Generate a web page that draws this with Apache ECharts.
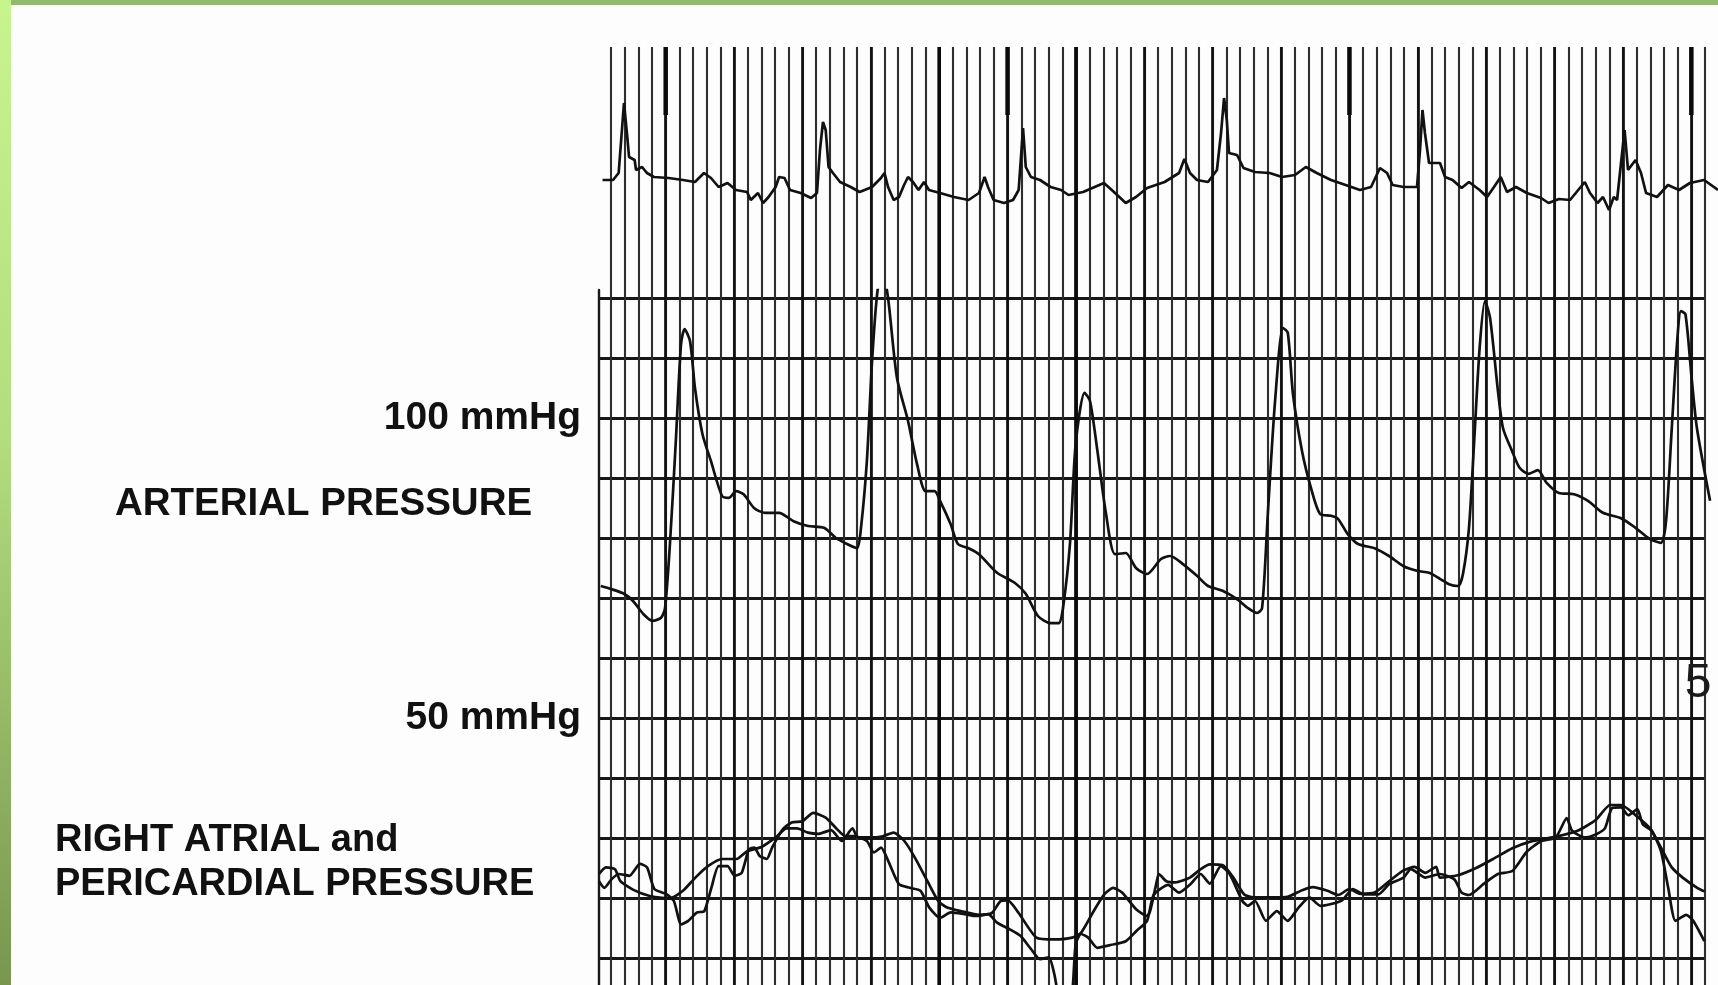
<!DOCTYPE html>
<html>
<head>
<meta charset="utf-8">
<script src="https://cdn.jsdelivr.net/npm/echarts@6/dist/echarts.min.js"></script>
<style>
  html, body { margin: 0; padding: 0; background: #fdfdfd; }
  #chart { width: 1718px; height: 985px; }
</style>
</head>
<body>
<div id="chart"></div>
<script>
// ---------- DATA (time in chart-paper divisions) ----------
const timeMarks = [4, 29, 54, 79];          // event-marker ticks on top channel
const heavyLines = [24, 34];                // heavy time lines on the paper
const pressureLabels = [100, 50];           // labelled pressure levels (mmHg)
const markLevels = [18.3, 25.1];            // extent of event ticks (ECG units)

const ecgTrace = [
[-0.62,11.8],[0.15,11.8],[0.56,12.5],[0.95,19.5],[1.21,15.8],[1.32,14.1],[1.73,13.8],[1.83,12.8],[2.27,13.1],[2.63,12.5],[3.14,12.1],[4.21,12.0],[5.27,11.8],[6.14,11.6],[6.80,12.5],[7.31,12.0],[7.87,11.1],[8.52,11.5],[9.14,10.8],[9.95,10.6],[10.22,9.8],[10.75,10.5],[11.12,9.5],[11.52,10.1],[12.04,11.1],[12.29,12.1],[12.69,12.0],[13.09,10.8],[13.87,10.5],[14.63,10.0],[15.06,10.5],[15.28,14.8],[15.50,17.6],[15.70,16.8],[15.91,13.1],[16.23,12.5],[16.75,11.6],[17.53,11.1],[18.18,10.6],[19.09,11.1],[19.74,12.0],[20.0,12.5],[20.26,11.1],[20.67,9.8],[21.06,10.1],[21.43,11.3],[21.72,12.1],[22.08,11.6],[22.49,10.8],[22.89,11.6],[23.25,10.8],[24.06,10.5],[25.08,10.1],[26.15,9.8],[26.91,10.5],[27.32,12.1],[27.57,11.1],[27.98,9.8],[28.74,9.5],[29.40,9.8],[29.81,10.8],[30.13,17.0],[30.33,13.1],[30.71,12.1],[31.37,11.8],[32.15,11.1],[32.91,10.8],[33.46,10.3],[34.52,10.6],[36.05,11.5],[36.86,10.5],[37.64,9.5],[38.39,10.1],[39.20,11.0],[40.48,11.6],[41.54,12.5],[41.93,13.9],[42.34,12.5],[42.85,11.8],[43.66,11.6],[44.31,12.8],[44.61,16.5],[44.83,20.0],[45.03,17.8],[45.19,14.5],[45.78,14.3],[46.25,13.0],[47.09,12.6],[48.16,12.5],[49.07,12.1],[50.02,12.3],[50.81,13.1],[51.61,12.5],[52.65,11.8],[53.72,11.3],[54.77,10.8],[55.58,11.1],[56.23,13.0],[56.75,12.5],[57.16,11.3],[57.96,11.1],[58.94,11.1],[59.16,14.8],[59.34,18.8],[59.52,16.5],[59.82,13.5],[60.62,13.5],[60.99,12.1],[61.54,11.8],[62.20,11.0],[62.74,11.6],[63.52,10.8],[64.06,10.1],[64.57,11.1],[65.06,12.1],[65.52,10.6],[66.18,11.1],[66.97,10.5],[68.01,10.0],[68.56,9.5],[69.32,9.9],[70.13,9.8],[71.21,11.6],[71.59,10.5],[72.14,9.5],[72.54,10.1],[72.98,8.8],[73.33,10.1],[73.57,9.8],[73.86,13.5],[74.12,16.8],[74.37,12.8],[74.92,13.8],[75.32,12.5],[75.69,10.5],[76.49,10.1],[77.29,11.3],[78.10,10.8],[78.90,11.5],[79.93,11.8],[80.95,10.8]
];

const arterialPressure = [
[-0.75,72.0],[0,71.5],[0.95,70.7],[1.61,69.5],[2.38,67.3],[3.03,66.2],[3.66,66.7],[3.95,68.3],[4.31,79.0],[4.73,95.7],[5.12,112.3],[5.38,114.8],[5.78,112.8],[6.14,105.0],[6.69,97.3],[7.31,92.8],[8.12,87.0],[8.63,86.7],[9.14,87.8],[9.70,87.3],[10.46,85.0],[11.26,84.2],[12.29,84.2],[13.35,82.8],[14.41,82.0],[15.58,81.7],[16.45,80.0],[17.26,79.0],[17.99,78.3],[18.28,81.7],[18.71,92.8],[19.09,109.5],[19.49,121.2],[19.89,124.0],[20.26,120.0],[20.91,106.7],[21.72,99.5],[22.38,92.3],[23.01,87.8],[23.66,87.8],[24.06,86.2],[24.84,82.3],[25.37,79.0],[26.15,78.3],[26.91,77.3],[28.23,74.2],[29.54,72.5],[30.33,70.7],[31.22,67.0],[32.15,65.8],[32.73,65.8],[33.05,68.3],[33.56,79.0],[33.98,95.7],[34.63,104.2],[35.03,102.8],[35.54,95.0],[36.20,84.0],[36.86,77.3],[37.64,77.5],[38.39,75.0],[39.20,74.0],[40.22,76.5],[40.88,77.0],[41.80,75.7],[42.85,73.7],[43.66,72.0],[44.72,71.2],[45.78,69.8],[46.58,68.3],[47.24,67.5],[47.61,68.3],[48.03,84.0],[48.56,102.8],[49.14,115.0],[49.49,114.2],[49.87,104.0],[50.53,94.5],[51.19,88.3],[51.85,84.0],[52.65,83.7],[53.16,83.2],[53.86,80.7],[54.63,79.0],[55.84,78.3],[56.89,77.0],[57.96,75.3],[59.01,74.5],[59.82,74.2],[60.62,73.2],[61.28,72.3],[61.94,72.0],[62.30,74.0],[62.74,81.7],[63.11,95.7],[63.52,111.7],[63.91,119.5],[64.28,116.7],[64.86,104.5],[65.23,98.3],[65.89,94.5],[66.44,91.7],[67.10,90.7],[67.77,91.3],[68.42,89.2],[69.32,87.5],[70.42,87.3],[71.44,86.2],[72.54,84.2],[73.86,83.3],[74.92,81.7],[75.98,79.8],[76.78,79.2],[77.15,82.8],[77.57,98.3],[77.95,112.3],[78.24,117.8],[78.57,117.3],[79.02,106.7],[79.41,98.3],[80.37,86.2]
];

const rightAtrialPressure = [
[-0.88,24.0],[-0.37,25.1],[0.29,24.8],[0.69,22.8],[1.60,21.4],[2.90,20.3],[4.34,20.0],[5.26,21.2],[6.17,23.4],[7.09,25.3],[8.12,26.5],[9.17,26.5],[9.95,27.8],[11.0,28.5],[12.04,30.1],[12.83,31.6],[13.61,31.6],[14.40,30.9],[15.18,30.7],[16.09,31.3],[16.88,29.5],[17.66,31.6],[18.05,30.1],[18.97,30.1],[19.88,30.3],[20.67,30.9],[21.45,29.5],[22.23,26.7],[23.14,22.8],[23.93,19.5],[24.58,18.4],[25.62,17.8],[26.93,17.2],[27.85,17.5],[28.50,19.5],[29.02,19.6],[29.81,17.5],[31.11,13.4],[32.42,13.1],[33.72,13.4],[34.37,14.2],[35.29,17.8],[36.07,20.6],[36.72,21.7],[37.37,20.9],[38.42,18.1],[39.20,17.0],[39.42,17.8],[39.81,21.7],[40.07,24.0],[40.61,22.8],[41.27,22.6],[42.33,23.4],[43.12,24.8],[43.79,25.6],[44.72,25.5],[45.51,23.4],[46.30,20.6],[47.10,20.1],[48.42,20.1],[49.48,20.2],[50.54,21.3],[51.33,21.8],[52.40,21.2],[53.19,20.5],[53.99,21.5],[54.78,20.7],[55.84,20.9],[56.90,22.8],[57.96,24.6],[58.76,25.2],[59.55,24.2],[60.34,25.2],[60.61,23.4],[61.94,23.8],[63.26,25.0],[64.58,26.6],[65.91,28.3],[67.23,29.4],[68.56,30.0],[69.62,30.5],[70.68,31.2],[72.01,33.0],[73.06,35.5],[73.86,35.5],[74.92,33.8],[75.98,31.6],[76.78,28.4],[77.57,25.1],[78.37,23.4],[79.43,21.7],[79.95,21.1]
];

const pericardialPressure = [
[-0.88,22.8],[-0.49,21.7],[0.03,23.1],[0.56,24.0],[1.34,23.7],[2.12,25.7],[2.64,25.1],[3.17,21.5],[4.08,20.6],[4.60,19.5],[5.13,15.6],[5.65,16.2],[6.30,17.6],[6.82,17.8],[7.34,21.7],[7.87,25.3],[8.52,25.3],[9.04,23.7],[9.56,24.2],[10.08,28.1],[10.48,28.4],[10.87,27.0],[11.39,26.5],[11.78,28.4],[12.57,31.5],[13.22,32.6],[14.0,32.8],[14.79,34.2],[15.70,33.4],[16.48,31.6],[17.14,30.3],[17.79,30.3],[18.71,29.5],[19.22,27.6],[19.75,28.4],[20.27,26.2],[21.05,22.3],[21.84,21.7],[22.63,21.2],[23.28,18.4],[24.06,16.7],[24.84,17.6],[25.89,17.3],[26.67,17.0],[27.58,17.3],[28.23,15.9],[29.15,14.8],[29.94,13.7],[30.71,11.5],[31.37,9.8],[32.02,10.1],[32.42,7.3],[32.80,2.8],[33.33,1.7],[33.72,4.0],[33.98,12.3],[34.37,14.0],[34.90,13.4],[35.55,11.7],[36.59,12.2],[37.64,12.8],[38.42,14.5],[39.20,16.2],[39.68,20.5],[40.74,22.2],[41.54,20.9],[42.33,22.2],[43.12,24.0],[43.79,22.4],[44.59,25.3],[45.24,24.0],[46.17,19.5],[46.57,18.7],[47.10,19.5],[47.89,16.2],[48.69,17.8],[49.48,16.2],[50.28,18.4],[51.07,20.1],[51.87,18.7],[52.67,19.0],[53.46,19.6],[54.25,21.5],[55.05,20.6],[56.11,20.6],[56.90,22.3],[57.96,23.4],[58.49,24.8],[59.55,23.4],[60.61,24.0],[61.67,23.1],[62.20,20.9],[62.73,20.5],[63.79,22.3],[64.85,24.0],[65.91,24.5],[66.97,27.7],[68.03,29.5],[69.09,30.1],[69.89,33.3],[70.28,31.2],[71.21,30.1],[72.01,30.6],[72.68,31.6],[73.21,35.0],[73.86,35.1],[74.39,33.8],[75.05,34.8],[75.45,32.3],[76.11,31.2],[76.78,27.8],[77.31,21.7],[77.84,16.2],[78.63,17.2],[79.14,16.2],[79.95,12.8]
];

// ---------- CHART ----------
const FONT = '"Liberation Sans", Arial, Helvetica, sans-serif';
const INK = '#111111';
const tMin = -0.8775, tMax = 80.95;

const chart = echarts.init(document.getElementById('chart'), null, { renderer: 'canvas' });

const hidden = { show: false };
function vLine(params, api) {
  const p1 = api.coord([api.value(0), api.value(1)]);
  const p2 = api.coord([api.value(0), api.value(2)]);
  return { type: 'line', shape: { x1: p1[0], y1: p1[1], x2: p2[0], y2: p2[1] },
           style: { stroke: api.visual('color'), lineWidth: params.seriesName === 'marks' ? 4.5 : 3.6 } };
}

chart.setOption({
  animation: false,
  backgroundColor: '#fdfdfd',
  grid: [
    { left: 611, right: 13, top: 47, bottom: 0, outerBoundsMode: 'none' },          // paper time lines
    { left: 599, right: 13, top: 290, height: 728, outerBoundsMode: 'none' },       // pressure lines
    { left: 599, right: 0, top: 290, height: 728, outerBoundsMode: 'none' },        // pressure traces
    { left: 599, right: 0, top: 46, height: 252, outerBoundsMode: 'none' }          // ECG channel
  ],
  xAxis: [
    { gridIndex: 0, type: 'value', min: 0, max: 80, interval: 1,
      axisLine: hidden, axisTick: hidden, axisLabel: hidden,
      splitLine: { show: true, lineStyle: { color: '#2e2e2e', width: 2.1 } } },
    { gridIndex: 0, type: 'value', min: 0, max: 80, interval: 1,
      axisLine: hidden, axisTick: hidden, axisLabel: hidden,
      splitLine: { show: true, lineStyle: { color: ['rgba(0,0,0,0)','rgba(0,0,0,0)','rgba(0,0,0,0)','rgba(0,0,0,0)','#111111'], width: 2.7 } } },
    { gridIndex: 1, type: 'value', min: 0, max: 80, show: false },
    { gridIndex: 2, type: 'value', min: tMin, max: tMax, show: false },
    { gridIndex: 3, type: 'value', min: tMin, max: tMax, show: false }
  ],
  yAxis: [
    { gridIndex: 0, type: 'value', min: 0, max: 1, show: false },
    { gridIndex: 1, type: 'value', min: 0, max: 121.333, interval: 10,
      axisLine: { show: true, onZero: false, lineStyle: { color: '#1a1a1a', width: 2.4 } },
      axisTick: hidden,
      axisLabel: { show: true, margin: 18, color: INK, fontSize: 39, fontWeight: 'bold', fontFamily: FONT,
                   formatter: v => pressureLabels.includes(v) ? v + ' mmHg' : '' },
      splitLine: { show: true, showMaxLine: false, lineStyle: { color: '#171717', width: 2.8 } } },
    { gridIndex: 2, type: 'value', min: 0, max: 121.333, show: false },
    { gridIndex: 2, type: 'value', min: 0, max: 121.333, show: false },
    { gridIndex: 3, type: 'value', min: 0, max: 25.2, show: false }
  ],
  series: [
    { name: 'heavy', type: 'custom', xAxisIndex: 0, yAxisIndex: 0, renderItem: vLine,
      itemStyle: { color: '#0a0a0a' }, data: heavyLines.map(t => [t, 0, 1]), z: 3 },
    { name: 'marks', type: 'custom', xAxisIndex: 4, yAxisIndex: 4, renderItem: vLine,
      itemStyle: { color: '#0a0a0a' }, data: timeMarks.map(t => [t, markLevels[0], markLevels[1]]), z: 3 },
    { name: 'ECG', type: 'line', xAxisIndex: 4, yAxisIndex: 4, data: ecgTrace,
      showSymbol: false, lineStyle: { color: INK, width: 2.7 }, z: 5 },
    { name: 'Arterial pressure', type: 'line', xAxisIndex: 3, yAxisIndex: 2, data: arterialPressure,
      showSymbol: false, smooth: 0.25, lineStyle: { color: INK, width: 2.7 }, z: 5 },
    { name: 'Right atrial pressure', type: 'line', xAxisIndex: 3, yAxisIndex: 3, data: rightAtrialPressure,
      showSymbol: false, smooth: 0.2, lineStyle: { color: INK, width: 2.7 }, z: 5 },
    { name: 'Pericardial pressure', type: 'line', xAxisIndex: 3, yAxisIndex: 3, data: pericardialPressure,
      showSymbol: false, smooth: 0.2, lineStyle: { color: INK, width: 2.7 }, z: 5 }
  ],
  graphic: [
    { type: 'rect', left: 0, top: 0, z: 100, shape: { width: 1718, height: 5 }, style: { fill: '#93b96b' } },
    { type: 'rect', left: 0, top: 0, z: 101, shape: { width: 11, height: 985 },
      style: { fill: new echarts.graphic.LinearGradient(0, 0, 0, 1, [
        { offset: 0, color: '#c8f48e' }, { offset: 0.45, color: '#b3dc7e' }, { offset: 1, color: '#78964f' }]) } },
    { type: 'text', z: 50, style: { x: 115, y: 504, text: 'ARTERIAL PRESSURE', fill: INK,
      font: 'bold 38.5px ' + FONT, verticalAlign: 'middle', align: 'left' } },
    { type: 'text', z: 50, style: { x: 55, y: 841, text: 'RIGHT ATRIAL and', fill: INK,
      font: 'bold 38px ' + FONT, verticalAlign: 'middle', align: 'left' } },
    { type: 'text', z: 50, style: { x: 55, y: 885, text: 'PERICARDIAL PRESSURE', fill: INK,
      font: 'bold 38px ' + FONT, verticalAlign: 'middle', align: 'left' } },
    { type: 'text', z: 50, style: { x: 1698, y: 684, text: '5', fill: '#1a1a1a',
      font: '48px ' + FONT, verticalAlign: 'middle', align: 'center' } }
  ]
});
</script>
</body>
</html>
